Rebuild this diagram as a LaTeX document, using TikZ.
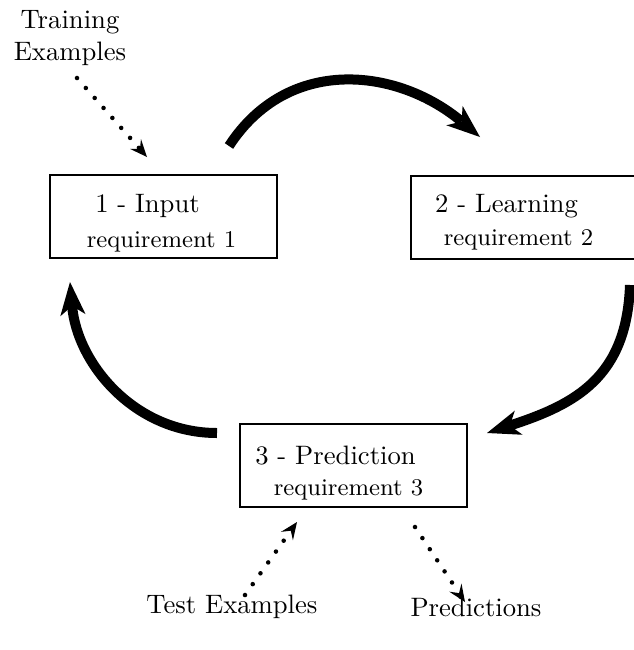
\documentclass[tikz,border=0pt]{standalone}
\usetikzlibrary{arrows.meta,calc}
\tikzset{
    stage/.style={draw, line width=0.7pt, minimum width=85pt, minimum height=31pt},
    cyclearrow/.style={line width=3.75pt, -{Stealth[length=12.5pt,width=9.5pt,inset=3.5pt,line width=0pt]}},
    dataarrow/.style={line width=1.7pt, line cap=round, dash pattern=on 0pt off 5pt, -{Stealth[length=6.5pt,width=5.5pt,inset=2.5pt,line width=0pt]}}
}
\begin{document}
\begin{tikzpicture}[x=0.375pt,y=0.375pt]
        \useasboundingbox (0,0) rectangle (633,-650);
        \node[stage] (in) at (163.5,-216.5) {};
        \node[stage] (learn) at (524.5,-217.5) {};
        \node[stage] (pred) at (353.5,-465.5) {};
        \node (inT) at ($(in.center)+(-16,11)$) {1 - Input};
        \node (inR) at ($(in.center)+(-2,-25)$) {\small requirement 1};
        \node (learnT) at ($(learn.center)+(-18,11)$) {2 - Learning};
        \node (learnR) at ($(learn.center)+(-6,-22)$) {\small requirement 2};
        \node (predT) at ($(pred.center)+(-18,10)$) {3 - Prediction};
        \node (predR) at ($(pred.center)+(-5,-24)$) {\small requirement 3};
        \node[align=center] (train) at (70,-38) {Training\\Examples};
        \node (test) at (232,-607) {Test Examples};
        \node (out) at (476,-607) {Predictions};
        \coordinate (trainA) at (77,-78);
        \coordinate (trainB) at (147,-157);
        \coordinate (testA) at (245,-595);
        \coordinate (testB) at (297,-522);
        \coordinate (outA) at (415,-527);
        \coordinate (outB) at (465,-602);
        \coordinate (c1s) at (229,-146);
        \coordinate (c1e) at (480,-137);
        \coordinate (c2s) at (630,-285);
        \coordinate (c2e) at (487,-433);
        \coordinate (c3s) at (217,-433);
        \coordinate (c3e) at (70,-282);
        \draw[cyclearrow] (c1s) to[out=57,in=140,looseness=1.1] (c1e);
        \draw[cyclearrow] (c2s) to[out=-92,in=18,looseness=1.15] (c2e);
        \draw[cyclearrow] (c3s) to[out=180,in=-85] (c3e);
        \draw[dataarrow] (trainA) -- (trainB);
        \draw[dataarrow] (testA) -- (testB);
        \draw[dataarrow] (outA) -- (outB);
\end{tikzpicture}
\end{document}
